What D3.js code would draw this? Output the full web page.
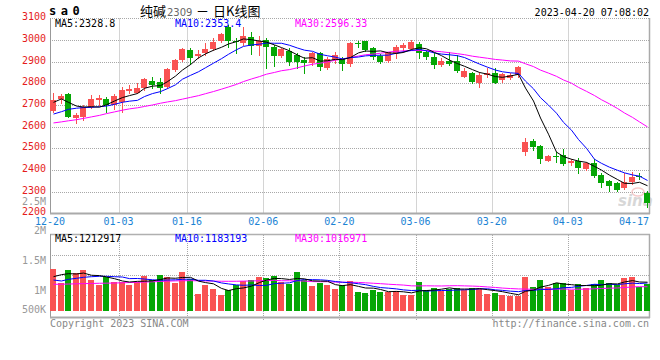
<!DOCTYPE html>
<html><head><meta charset="utf-8">
<script src="https://cdn.jsdelivr.net/npm/d3@7/dist/d3.min.js"></script>
<style>
html,body{margin:0;padding:0;background:#fff;}
svg{display:block;}
text{font-family:"DejaVu Sans Mono",monospace;font-size:10px;}
</style></head><body>
<svg id="chart" width="660" height="360"></svg>
<script>
// ---------- data ----------
const dates = ["12-20","12-21","12-22","12-23","12-26","12-27","12-28","12-29","12-30",
"01-03","01-04","01-05","01-06","01-09","01-10","01-11","01-12","01-13","01-16","01-17","01-18","01-19","01-20","01-30","01-31",
"02-01","02-02","02-03","02-06","02-07","02-08","02-09","02-10","02-13","02-14","02-15","02-16","02-17","02-20","02-21","02-22","02-23","02-24","02-27","02-28",
"03-01","03-02","03-03","03-06","03-07","03-08","03-09","03-10","03-13","03-14","03-15","03-16","03-17","03-20","03-21","03-22","03-23","03-24","03-27","03-28","03-29","03-30","03-31",
"04-03","04-04","04-06","04-07","04-10","04-11","04-12","04-13","04-14","04-17","04-18"];
const open  = [2674,2728,2751,2638,2643,2689,2723,2728,2700,2715,2766,2757,2777,2811,2806,2785,2861,2908,2954,2926,2938,2958,2997,3061,2997,2988,3015,2972,3000,2969,2926,2951,2931,2908,2895,2938,2872,2908,2911,2889,2985,2997,2961,2926,2904,2941,2961,2957,2981,2946,2920,2885,2904,2904,2831,2846,2803,2837,2849,2815,2826,2838,2484,2535,2511,2443,2466,2469,2431,2443,2403,2434,2377,2349,2341,2315,2346,2370,2295];
const high  = [2757,2751,2757,2661,2700,2746,2746,2735,2751,2785,2792,2800,2823,2831,2823,2869,2911,2963,2963,2954,2988,3008,3031,3069,3008,3058,3038,3018,3008,2977,2961,2961,2938,2920,2943,2946,2923,2943,2920,2992,2997,2997,2966,2935,2946,2977,2985,3000,2992,2954,2938,2915,2946,2930,2869,2854,2854,2869,2869,2849,2849,2880,2546,2541,2513,2469,2484,2495,2449,2454,2438,2449,2384,2354,2346,2384,2392,2384,2304];
const low   = [2669,2708,2643,2615,2631,2685,2700,2669,2680,2669,2754,2754,2769,2777,2754,2777,2858,2905,2889,2915,2931,2954,2991,2969,2938,2977,2935,2931,2869,2881,2920,2884,2869,2846,2884,2861,2864,2895,2861,2880,2969,2951,2911,2892,2900,2915,2946,2954,2915,2911,2869,2880,2884,2854,2827,2803,2781,2830,2800,2807,2818,2830,2469,2492,2434,2443,2438,2423,2423,2384,2400,2369,2320,2304,2304,2311,2335,2357,2231];
const close = [2723,2741,2646,2654,2689,2729,2732,2700,2741,2769,2774,2780,2820,2792,2780,2866,2908,2960,2918,2935,2958,2992,3028,2994,2990,3020,2974,2997,2969,2926,2958,2900,2900,2895,2938,2877,2911,2931,2889,2988,2983,2954,2923,2900,2943,2969,2977,2992,2938,2920,2885,2903,2889,2858,2858,2807,2838,2849,2803,2841,2838,2877,2530,2505,2449,2464,2464,2427,2443,2407,2434,2372,2341,2326,2307,2346,2369,2368,2246];
const volume = [1768000,1166000,1726000,1600000,1726000,1305000,1095000,1444000,1234000,1234000,1095000,1234000,1474000,1305000,1516000,1419000,1179000,1642000,1335000,716000,1107000,926000,674000,884000,1107000,1263000,1305000,1431000,1389000,1474000,1221000,1124000,1642000,1305000,1053000,1166000,1095000,926000,1095000,1263000,800000,758000,897000,813000,800000,855000,674000,674000,1221000,884000,968000,842000,947000,981000,884000,981000,926000,716000,770000,674000,632000,632000,1444000,1010000,1305000,998000,1179000,1179000,884000,1137000,981000,1137000,1305000,1179000,1095000,1389000,1431000,1010000,1137000];
// moving-average values before enough bars exist
const ma5Head  = [2712,2728,2712,2695];
const ma10Head = [2658,2669,2680,2685,2688,2689,2692,2695,2703];
const ma30Head = [2617,2622,2627,2632,2638,2645,2652,2660,2668,2676,2682,2687,2693,2700,2708,2714,2720,2727,2735,2743,2752,2762,2773,2783,2795,2808,2820,2831,2842];
const vma5Head  = [1445000,1530000,1572000,1558000];
const vma10Head = [1305000,1263000,1334000,1376000,1418000,1444000,1461000,1461000,1444000];
const vma30Head = [1124000,1128000,1135000,1145000,1152000,1160000,1167000,1172000,1178000,1188000,1198000,1208000,1218000,1230000,1245000,1258000,1268000,1275000,1277000,1272000,1265000,1258000,1252000,1250000,1252000,1258000,1266000,1275000,1284000];
const priceTicks = [3100,3000,2900,2800,2700,2600,2500,2400,2300,2200];
const xTickLabels = ["12-20","01-03","01-16","02-06","02-20","03-06","03-20","04-03","04-17"];
const volTickLabels = ["2.5M","2M","1.5M","1M","500K"];
const volTickValues = [2500000,2000000,1500000,1000000,500000];
const maLabels = ["MA5:2328.8","MA10:2353.4","MA30:2596.33"];
const vmaLabels = ["MA5:1212917","MA10:1183193","MA30:1016971"];
const titleParts = ["纯碱","2309","－","日K线图"];

// ---------- helpers ----------
const UP = "#f95252", DOWN = "#05a605";
const maColors = ["#000000","#0000ff","#ff00ff"];
function movingAvg(arr, n, head){
  return arr.map((v,i)=> i < n-1 ? head[i] : d3.mean(arr.slice(i-n+1, i+1)));
}
const svg = d3.select("#chart");
const n = dates.length;
const x = d3.scaleBand().domain(d3.range(n)).range([50,650]).paddingInner(0.21).paddingOuter(0);
const px = i => Math.round(x(i));
const yP = d3.scaleLinear().domain([2200,3100]).range([213.3,18.3]);
const yV = d3.scaleLinear().domain([0,3229000]).range([311,234.3]);
const volLabelY = d3.scaleLinear().domain([1000000,2500000]).range([293.8,204.8]);
const gridIdx = xTickLabels.slice(1, -1).map(d => dates.indexOf(d));

// ---------- grid & frames ----------
const g = svg.append("g");
priceTicks.filter(p => p > 2200).forEach(p => {
  const yy = Math.round(yP(p)) + 0.5;
  g.append("line").attr("x1",50).attr("x2",649).attr("y1",yy).attr("y2",yy)
    .attr("stroke","#a8a8a8").attr("stroke-dasharray","1,1");
});
gridIdx.forEach(i => {
  const xx = px(i) + 0.5;
  g.append("line").attr("x1",xx).attr("x2",xx).attr("y1",18.5).attr("y2",213)
    .attr("stroke","#a8a8a8").attr("stroke-dasharray","1,1");
  g.append("line").attr("x1",xx).attr("x2",xx).attr("y1",235).attr("y2",321)
    .attr("stroke","#a8a8a8").attr("stroke-dasharray","1,1");
});
[255.5,275.5,295.5].forEach(yy => {
  g.append("line").attr("x1",50).attr("x2",649).attr("y1",yy).attr("y2",yy)
    .attr("stroke","#a8a8a8").attr("stroke-dasharray","1,1");
});
g.append("line").attr("x1",50.5).attr("x2",50.5).attr("y1",18).attr("y2",214).attr("stroke","#999");
g.append("line").attr("x1",649.5).attr("x2",649.5).attr("y1",18).attr("y2",214).attr("stroke","#aaa").attr("stroke-width",1.5);
g.append("line").attr("x1",50).attr("x2",650).attr("y1",213.5).attr("y2",213.5).attr("stroke","#aaa").attr("stroke-width",2);
g.append("line").attr("x1",50).attr("x2",650).attr("y1",234.5).attr("y2",234.5).attr("stroke","#b0b0b0").attr("stroke-width",1.5);
g.append("line").attr("x1",50.5).attr("x2",50.5).attr("y1",234).attr("y2",318).attr("stroke","#999");
g.append("line").attr("x1",649.5).attr("x2",649.5).attr("y1",234).attr("y2",318).attr("stroke","#aaa").attr("stroke-width",1.5);
g.append("line").attr("x1",50).attr("x2",650).attr("y1",317.5).attr("y2",317.5).attr("stroke","#aaa").attr("stroke-width",2);

// watermark
const wm = svg.append("g").attr("opacity",0.55);
wm.append("ellipse").attr("cx",638).attr("cy",192).attr("rx",6).attr("ry",4).attr("fill","none").attr("stroke","#f0a0a0").attr("stroke-width",1.5);
wm.append("text").attr("x",618).attr("y",206).text("sina")
  .style("font-family","'DejaVu Sans',sans-serif").style("font-size","15px").style("font-style","italic").style("font-weight","bold").attr("fill","#b8b8b8");

// ---------- candles ----------
const cg = svg.append("g");
d3.range(n).forEach(i => {
  const up = close[i] >= open[i];
  const col = up ? UP : DOWN;
  const xx = px(i);
  cg.append("line").attr("x1",xx+3.5).attr("x2",xx+3.5)
    .attr("y1",Math.round(yP(high[i]))).attr("y2",Math.round(yP(low[i]))+1)
    .attr("stroke",col).attr("stroke-width",1);
  const t = Math.round(yP(Math.max(open[i],close[i])));
  const b = Math.round(yP(Math.min(open[i],close[i])));
  cg.append("rect").attr("x",xx).attr("y",t).attr("width",6).attr("height",Math.max(1,b-t)).attr("fill",col);
});

const maSeries = [movingAvg(close,5,ma5Head), movingAvg(close,10,ma10Head), movingAvg(close,30,ma30Head)];
const lineP = d3.line().x((d,i)=>px(i)+3.5).y(d=>yP(d));
[2,1,0].forEach(k => {
  svg.append("path").attr("d",lineP(maSeries[k])).attr("fill","none").attr("stroke",maColors[k]).attr("stroke-width",1);
});

// ---------- volume ----------
const vg = svg.append("g");
d3.range(n).forEach(i => {
  const up = close[i] >= open[i];
  const t = Math.round(yV(volume[i]));
  vg.append("rect").attr("x",px(i)).attr("y",t).attr("width",6).attr("height",311 - t).attr("fill", up ? UP : DOWN);
});
const vmaSeries = [movingAvg(volume,5,vma5Head), movingAvg(volume,10,vma10Head), movingAvg(volume,30,vma30Head)];
const lineV = d3.line().x((d,i)=>px(i)+3.5).y(d=>yV(d));
[2,1,0].forEach(k => {
  svg.append("path").attr("d",lineV(vmaSeries[k])).attr("fill","none").attr("stroke",maColors[k]).attr("stroke-width",1);
});

// ---------- texts ----------
const tg = svg.append("g");
priceTicks.forEach(p => {
  tg.append("text").attr("x",46).attr("y",yP(p)+2).attr("text-anchor","end").attr("fill","#e51c1c").text(p);
});
volTickLabels.forEach((s,k) => {
  tg.append("text").attr("x",46).attr("y",Math.min(volLabelY(volTickValues[k]),313.3)).attr("text-anchor","end").attr("fill","#999").text(s);
});
xTickLabels.forEach(s => {
  const i = dates.indexOf(s);
  const cxp = Math.min(x(i), 649 - 15);
  tg.append("text").attr("x",cxp).attr("y",224.5).attr("text-anchor","middle").attr("fill","#1b83d4").text(s);
});
maLabels.forEach((s,k) => {
  tg.append("text").attr("x",55 + 120*k).attr("y",27).attr("fill",maColors[k]).text(s);
});
vmaLabels.forEach((s,k) => {
  tg.append("text").attr("x",55 + 120*k).attr("y",241.5).attr("fill",maColors[k]).text(s);
});
tg.append("text").attr("x",649).attr("y",15.5).attr("text-anchor","end").attr("fill","#000").text("2023-04-20 07:08:02");
tg.append("text").attr("x",49).attr("y",15).attr("fill","#000")
  .style("font-size","12px").style("font-weight","bold").style("letter-spacing","4.5px").text("sa0");
const tt = tg.append("text").attr("y",15.5).style("font-family","'Noto Sans CJK SC','Noto Sans',sans-serif").style("font-size","13px").attr("fill","#000");
tt.append("tspan").attr("x",140).text(titleParts[0]);
tt.append("tspan").attr("x",167).attr("fill","#666").style("font-family","'DejaVu Sans',sans-serif").style("font-size","10px").text(titleParts[1]);
tt.append("tspan").attr("x",196).text(titleParts[2]);
tt.append("tspan").attr("x",213).text(titleParts[3]);
tg.append("text").attr("x",50).attr("y",326.5).attr("fill","#888").text("Copyright 2023 SINA.COM");
tg.append("text").attr("x",649).attr("y",326.5).attr("text-anchor","end").attr("fill","#888").text("http://finance.sina.com.cn");
</script>
</body></html>
